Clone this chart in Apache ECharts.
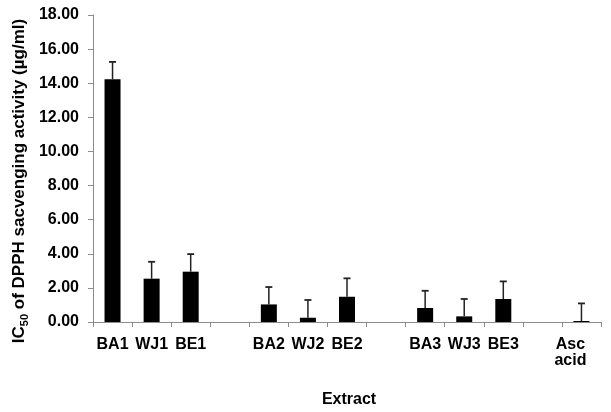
<!DOCTYPE html>
<html><head><meta charset="utf-8">
<script src="https://cdn.jsdelivr.net/npm/echarts@6/dist/echarts.min.js"></script>
<style>html,body{margin:0;padding:0;background:#fff}#c{width:611px;height:412px}</style>
</head><body><div id="c"></div>
<script>
var categories = ['BA1','WJ1','BE1','','BA2','WJ2','BE2','','BA3','WJ3','BE3','','Asc\nacid'];
var values = [14.24, 2.54, 2.95, null, 1.03, 0.25, 1.48, null, 0.82, 0.33, 1.35, null, 0.06];
var errors = [1.01, 0.99, 1.03, null, 1.02, 1.04, 1.08, null, 1.01, 1.02, 1.03, null, 1.03];
var yTicks = [0, 2, 4, 6, 8, 10, 12, 14, 16, 18];

var chart = echarts.init(document.getElementById('c'), null, {renderer:'canvas'});
var font = 'Liberation Sans, Arial, sans-serif';
var errData = values.map(function(v,i){ return v==null ? null : [i, v, v+errors[i]]; }).filter(function(d){return d;});
var labelData = categories.map(function(c,i){
  if (c.indexOf('Asc')===0) return {value:c, textStyle:{padding:[0,22,0,0]}};
  return c;
});
chart.setOption({
  animation:false,
  backgroundColor:'#fff',
  grid:{left:93, top:15, width:520, bottom:90, containLabel:false},
  xAxis:{type:'category', data:labelData,
    axisLine:{lineStyle:{color:'#8c8c8c', width:1}},
    axisTick:{show:true, length:5, lineStyle:{color:'#8c8c8c'}},
    axisLabel:{interval:0, color:'#000', fontFamily:font, fontWeight:'bold', fontSize:16, lineHeight:16, margin:15}
  },
  yAxis:{type:'value', min:yTicks[0], max:yTicks[yTicks.length-1], interval:2,
    axisLine:{show:true, lineStyle:{color:'#8c8c8c', width:1}},
    axisTick:{show:true, length:5, lineStyle:{color:'#8c8c8c'}},
    splitLine:{show:false},
    axisLabel:{color:'#000', fontFamily:font, fontWeight:'bold', fontSize:16, margin:14,
      formatter:function(v){return v.toFixed(2);}}
  },
  graphic:[
    {type:'text', x:19, y:181, rotation:Math.PI/2,
      style:{text:'{m|IC}{s|50}{m| of DPPH sacvenging activity (µg/ml)}', align:'center', verticalAlign:'middle',
        rich:{m:{fontFamily:font, fontWeight:'bold', fontSize:17, fill:'#000', verticalAlign:'bottom'},
              s:{fontFamily:font, fontWeight:'bold', fontSize:11, fill:'#000', verticalAlign:'bottom', padding:[0,0,-3,0]}}}},
    {type:'text', x:349, y:400,
      style:{text:'Extract', align:'center', verticalAlign:'middle', fontFamily:font, fontWeight:'bold', fontSize:16, fill:'#000'}}
  ],
  series:[
    {type:'bar', data:values, barWidth:16, itemStyle:{color:'#000'}, z:2},
    {type:'custom', data:errData, z:3,
      renderItem:function(params, api){
        var x = api.value(0), top = api.coord([x, api.value(1)]), cap = api.coord([x, api.value(2)]);
        var hw = 3.5;
        return {type:'group', children:[
          {type:'line', shape:{x1:top[0], y1:top[1], x2:cap[0], y2:cap[1]}, style:{stroke:'#222', lineWidth:1.5}},
          {type:'line', shape:{x1:cap[0]-hw, y1:cap[1], x2:cap[0]+hw, y2:cap[1]}, style:{stroke:'#222', lineWidth:1.8}}
        ]};
      }
    }
  ]
});
</script></body></html>
